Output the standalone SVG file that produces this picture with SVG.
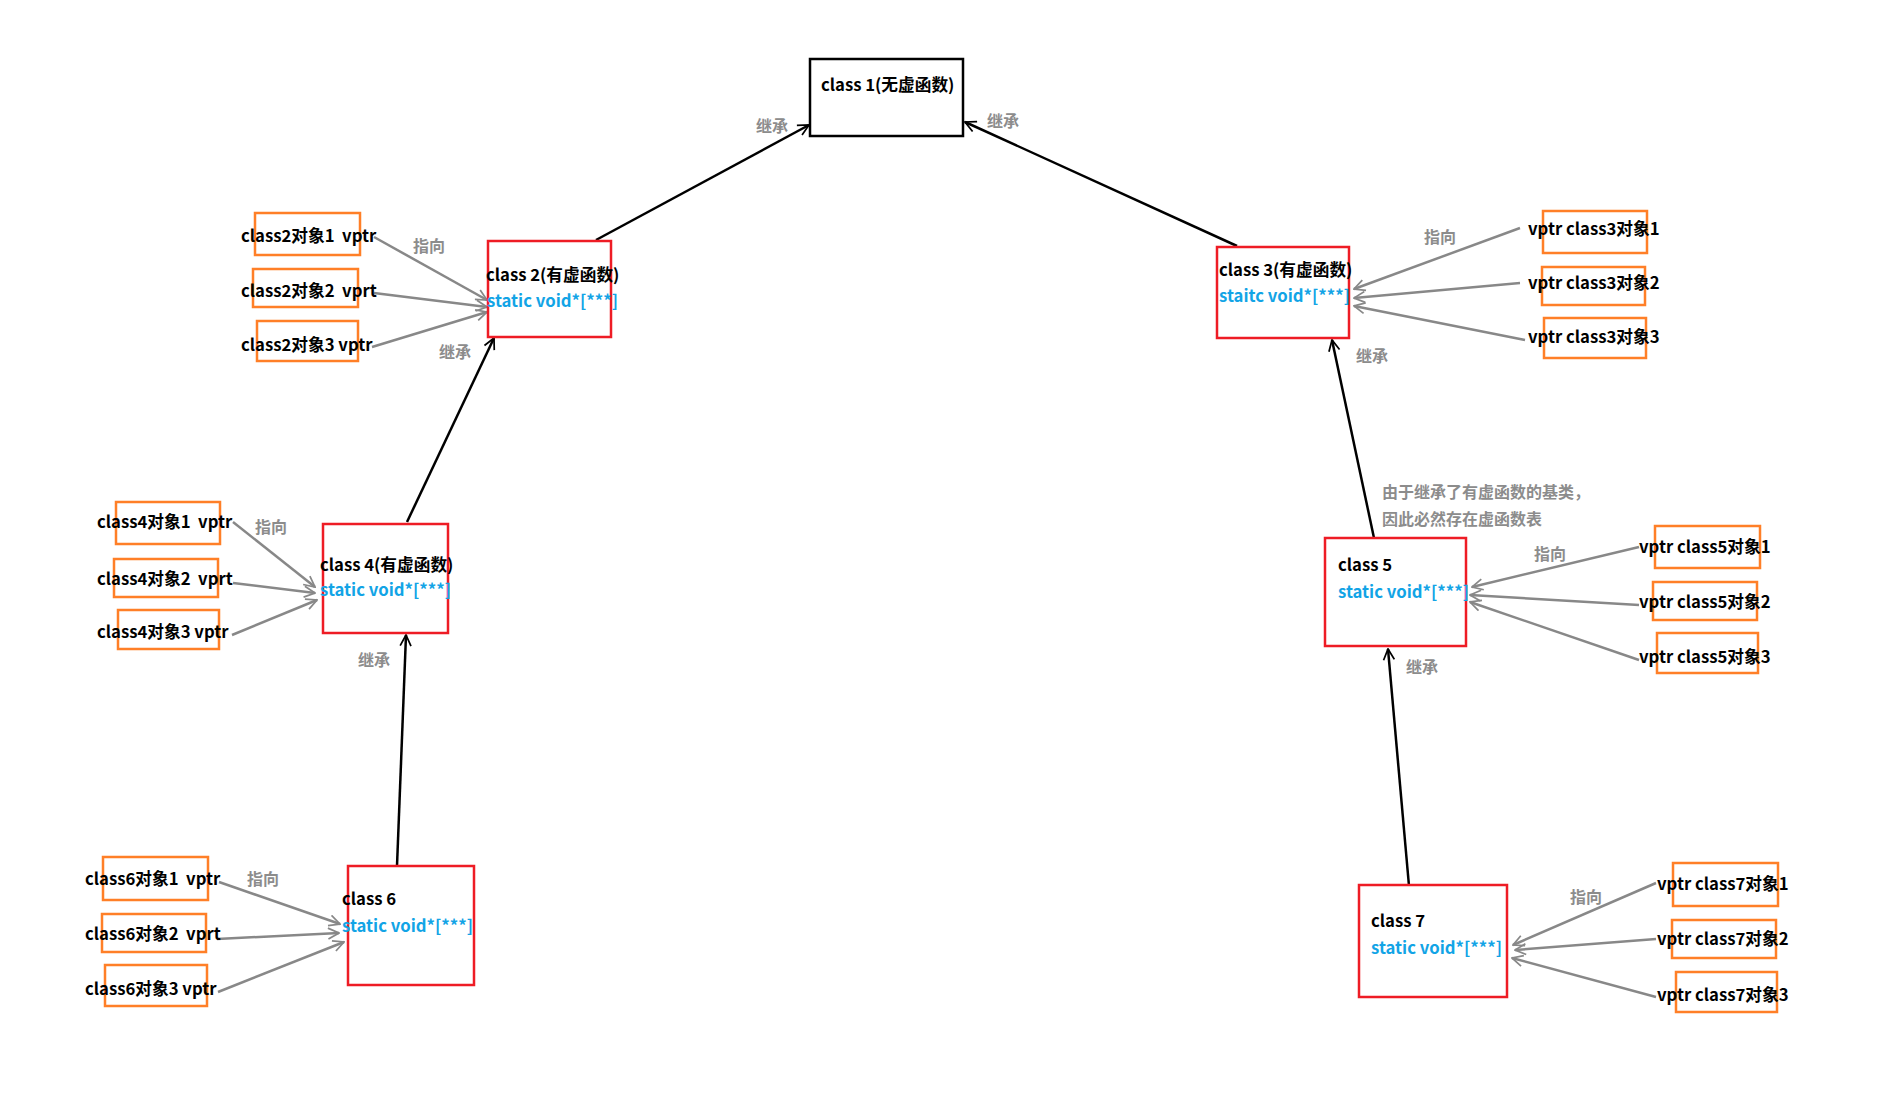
<svg xmlns="http://www.w3.org/2000/svg" width="1896" height="1093" viewBox="0 0 1896 1093">
<defs>
<style>
.t{font-family:"Noto Sans CJK SC","Noto Sans",sans-serif;font-weight:bold;font-size:16.7px;fill:#000}
.b{font-family:"Noto Sans CJK SC","Noto Sans",sans-serif;font-weight:bold;font-size:16.7px;fill:#12A4E6}
.g{font-family:"Noto Sans CJK SC","Noto Sans",sans-serif;font-weight:bold;font-size:16px;fill:#8C8C8C}
.red{fill:#fff;stroke:#EE1C25;stroke-width:2.5}
.org{fill:none;stroke:#FF7F27;stroke-width:2.5}
.blk{fill:#fff;stroke:#000;stroke-width:2.5}
.inh{stroke:#000;stroke-width:2.5;fill:none;marker-end:url(#ah)}
.ptr{stroke:#888;stroke-width:2.5;fill:none;marker-end:url(#ag)}
</style>
<marker id="ah" viewBox="0 0 12 12" refX="11" refY="6" markerWidth="13" markerHeight="13" markerUnits="userSpaceOnUse" orient="auto">
<path d="M1,1 L11,6 L1,11" fill="none" stroke="#000" stroke-width="1.6"/>
</marker>
<marker id="ag" viewBox="0 0 12 12" refX="11" refY="6" markerWidth="13" markerHeight="13" markerUnits="userSpaceOnUse" orient="auto">
<path d="M1,1 L11,6 L1,11" fill="none" stroke="#888" stroke-width="1.6"/>
</marker>
</defs>
<rect width="1896" height="1093" fill="#fff"/>

<g id="connectors">
<line class="inh" x1="596" y1="240" x2="809" y2="125"/>
<line class="inh" x1="1237" y1="246" x2="965" y2="122"/>
<line class="inh" x1="407" y1="522" x2="494" y2="338"/>
<line class="inh" x1="1374" y1="538" x2="1332" y2="340"/>
<line class="inh" x1="397" y1="866" x2="406" y2="635"/>
<line class="inh" x1="1409" y1="886" x2="1388" y2="649"/>

<line class="ptr" x1="374" y1="237" x2="487" y2="300"/>
<line class="ptr" x1="374" y1="293" x2="487" y2="307"/>
<line class="ptr" x1="372" y1="347" x2="487" y2="312"/>

<line class="ptr" x1="1520" y1="228" x2="1354" y2="289"/>
<line class="ptr" x1="1520" y1="283" x2="1354" y2="298"/>
<line class="ptr" x1="1525" y1="340" x2="1354" y2="306"/>

<line class="ptr" x1="233" y1="522" x2="315" y2="587"/>
<line class="ptr" x1="233" y1="583" x2="315" y2="593"/>
<line class="ptr" x1="232" y1="635" x2="317" y2="600"/>

<line class="ptr" x1="1639" y1="547" x2="1472" y2="587"/>
<line class="ptr" x1="1639" y1="605" x2="1470" y2="595"/>
<line class="ptr" x1="1639" y1="660" x2="1470" y2="602"/>

<line class="ptr" x1="219" y1="882" x2="340" y2="924"/>
<line class="ptr" x1="217" y1="939" x2="339" y2="933"/>
<line class="ptr" x1="218" y1="992" x2="344" y2="942"/>

<line class="ptr" x1="1656" y1="883" x2="1513" y2="945"/>
<line class="ptr" x1="1656" y1="939" x2="1515" y2="950"/>
<line class="ptr" x1="1656" y1="997" x2="1512" y2="958"/>

<text class="g" x="756" y="132">继承</text>
<text class="g" x="987" y="127">继承</text>
<text class="g" x="439" y="358">继承</text>
<text class="g" x="1356" y="362">继承</text>
<text class="g" x="358" y="666">继承</text>
<text class="g" x="1406" y="673">继承</text>
<text class="g" x="413" y="252">指向</text>
<text class="g" x="1424" y="243">指向</text>
<text class="g" x="255" y="533">指向</text>
<text class="g" x="1534" y="560">指向</text>
<text class="g" x="247" y="885">指向</text>
<text class="g" x="1570" y="903">指向</text>
</g>

<g id="class1">
<rect class="blk" x="810" y="59" width="153" height="77"/>
<text class="t" x="821" y="91">class 1(无虚函数)</text>
</g>

<g id="class2">
<rect class="red" x="488" y="241" width="123" height="96"/>
<text class="t" x="486" y="281">class 2(有虚函数)</text>
<text class="b" x="487" y="307">static void*[***]</text>
</g>
<g id="class2-obj1"><rect class="org" x="255" y="213" width="105" height="42"/><text class="t" x="241" y="242" xml:space="preserve">class2对象1  vptr</text></g>
<g id="class2-obj2"><rect class="org" x="253" y="269" width="105" height="38"/><text class="t" x="241" y="297" xml:space="preserve">class2对象2  vprt</text></g>
<g id="class2-obj3"><rect class="org" x="257" y="321" width="101" height="40"/><text class="t" x="241" y="351">class2对象3 vptr</text></g>

<g id="class3">
<rect class="red" x="1217" y="247" width="132" height="91"/>
<text class="t" x="1219" y="276">class 3(有虚函数)</text>
<text class="b" x="1219" y="302">staitc void*[***]</text>
</g>
<g id="class3-obj1"><rect class="org" x="1543" y="211" width="104" height="42"/><text class="t" x="1528" y="235">vptr class3对象1</text></g>
<g id="class3-obj2"><rect class="org" x="1542" y="267" width="103" height="38"/><text class="t" x="1528" y="289">vptr class3对象2</text></g>
<g id="class3-obj3"><rect class="org" x="1544" y="318" width="102" height="40"/><text class="t" x="1528" y="343">vptr class3对象3</text></g>

<g id="class4">
<rect class="red" x="323" y="524" width="125" height="109"/>
<text class="t" x="320" y="571">class 4(有虚函数)</text>
<text class="b" x="320" y="596">static void*[***]</text>
</g>
<g id="class4-obj1"><rect class="org" x="116" y="502" width="104" height="42"/><text class="t" x="97" y="528" xml:space="preserve">class4对象1  vptr</text></g>
<g id="class4-obj2"><rect class="org" x="114" y="559" width="104" height="38"/><text class="t" x="97" y="585" xml:space="preserve">class4对象2  vprt</text></g>
<g id="class4-obj3"><rect class="org" x="118" y="610" width="101" height="39"/><text class="t" x="97" y="638">class4对象3 vptr</text></g>

<g id="class5">
<rect class="red" x="1325" y="538" width="141" height="108"/>
<text class="t" x="1338" y="571">class 5</text>
<text class="b" x="1338" y="598">static void*[***]</text>
</g>
<g id="note">
<text class="g" x="1382" y="498">由于继承了有虚函数的基类，</text>
<text class="g" x="1382" y="525">因此必然存在虚函数表</text>
</g>
<g id="class5-obj1"><rect class="org" x="1655" y="526" width="105" height="42"/><text class="t" x="1639" y="553">vptr class5对象1</text></g>
<g id="class5-obj2"><rect class="org" x="1653" y="582" width="104" height="38"/><text class="t" x="1639" y="608">vptr class5对象2</text></g>
<g id="class5-obj3"><rect class="org" x="1657" y="633" width="101" height="40"/><text class="t" x="1639" y="663">vptr class5对象3</text></g>

<g id="class6">
<rect class="red" x="348" y="866" width="126" height="119"/>
<text class="t" x="342" y="905">class 6</text>
<text class="b" x="342" y="932">static void*[***]</text>
</g>
<g id="class6-obj1"><rect class="org" x="103" y="857" width="105" height="43"/><text class="t" x="85" y="885" xml:space="preserve">class6对象1  vptr</text></g>
<g id="class6-obj2"><rect class="org" x="102" y="914" width="104" height="38"/><text class="t" x="85" y="940" xml:space="preserve">class6对象2  vprt</text></g>
<g id="class6-obj3"><rect class="org" x="105" y="965" width="102" height="41"/><text class="t" x="85" y="995">class6对象3 vptr</text></g>

<g id="class7">
<rect class="red" x="1359" y="885" width="148" height="112"/>
<text class="t" x="1371" y="927">class 7</text>
<text class="b" x="1371" y="954">static void*[***]</text>
</g>
<g id="class7-obj1"><rect class="org" x="1673" y="863" width="105" height="43"/><text class="t" x="1657" y="890">vptr class7对象1</text></g>
<g id="class7-obj2"><rect class="org" x="1672" y="920" width="104" height="38"/><text class="t" x="1657" y="945">vptr class7对象2</text></g>
<g id="class7-obj3"><rect class="org" x="1676" y="972" width="101" height="40"/><text class="t" x="1657" y="1001">vptr class7对象3</text></g>
</svg>
